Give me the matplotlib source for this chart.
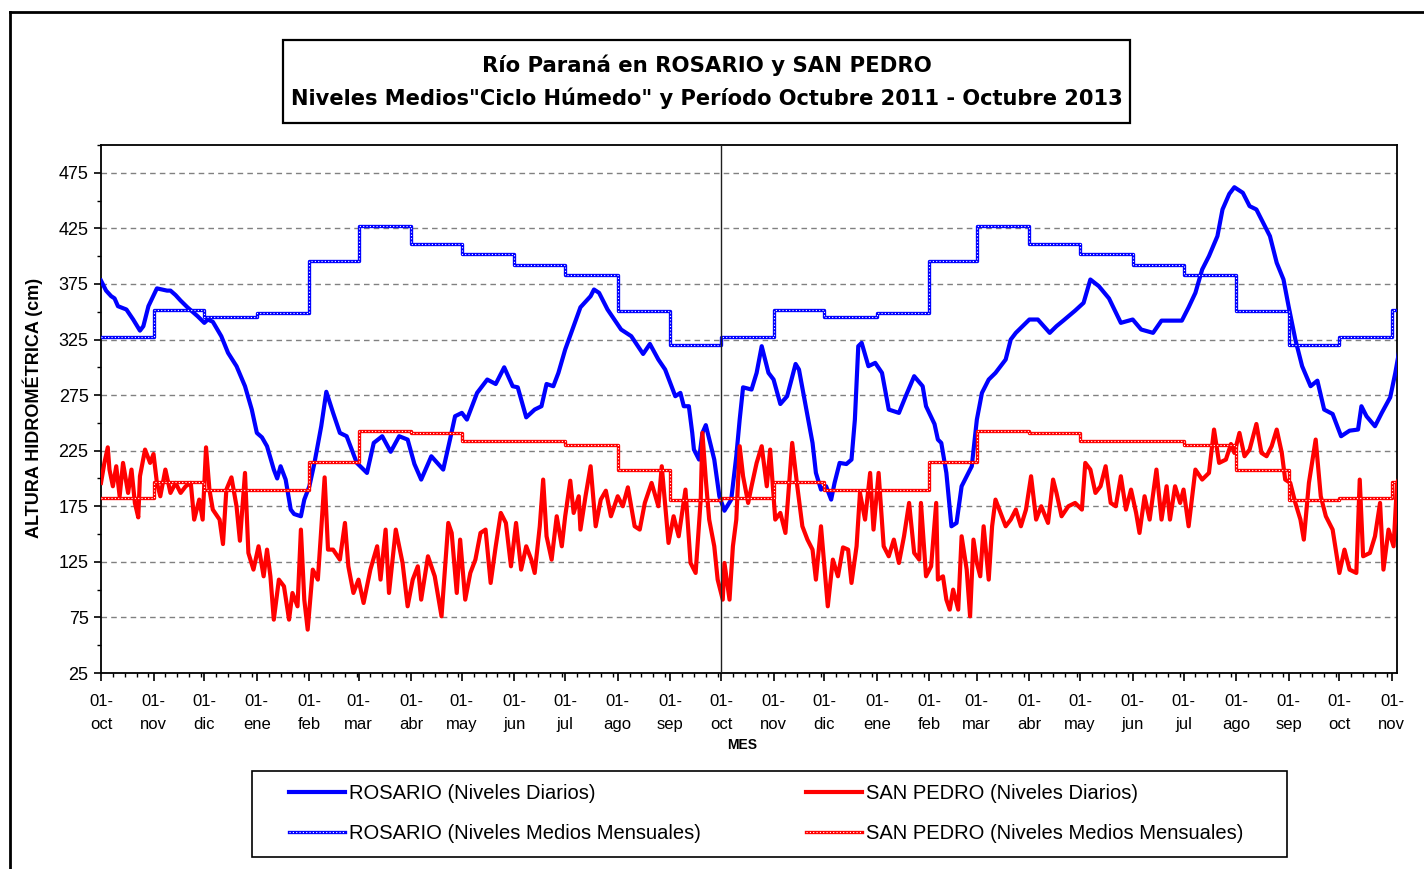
"""Río Paraná en Rosario y San Pedro: niveles diarios y medios mensuales.
Octubre 2011 - Octubre 2013.
"""

import matplotlib
import numpy as np
import pandas as pd

matplotlib.use("Agg")
import matplotlib.pyplot as plt
import matplotlib.dates as mdates
from matplotlib.lines import Line2D
from matplotlib.patches import Rectangle
from matplotlib.ticker import FuncFormatter, MultipleLocator

plt.rcParams["font.family"] = "DejaVu Sans"
plt.rcParams["lines.scale_dashes"] = False

inicio = pd.Timestamp("2011-10-01")
fin = pd.Timestamp("2013-11-04")
corte = pd.Timestamp("2012-10-01")

meses_es = ["ene", "feb", "mar", "abr", "may", "jun",
            "jul", "ago", "sep", "oct", "nov", "dic"]

# niveles medios mensuales "ciclo humedo" (oct .. sep)
rosario_medio = [327, 352, 345, 349, 396, 427, 411, 402, 392, 383, 351, 320]
sanpedro_medio = [182, 197, 190, 190, 215, 243, 241, 234, 234, 230, 208, 181]

# niveles diarios (dias desde 01-oct-2011, cm)
rosario_dia = [
    0, 3, 6, 8, 10, 15, 19, 23, 25, 28, 33, 36, 39, 41, 44, 47, 51, 57, 61, 63,
    66, 71, 75, 80, 85, 89, 92, 95, 98, 102, 104, 106, 109, 112, 114, 118, 120,
    123, 126, 130, 133, 137, 141, 145, 148, 151, 157, 161, 166, 171, 176, 181,
    185, 189, 195, 202, 206, 209, 213, 216, 222, 228, 233, 238, 243, 246, 251,
    256, 260, 263, 267, 270, 274, 279, 283, 289, 291, 294, 299, 307, 313, 320,
    324, 329, 333, 339, 342, 344, 347, 349, 350, 353, 355, 357, 362, 365, 368,
    372, 375, 377, 379, 384, 387, 390, 394, 397, 401, 405, 410, 412, 416, 420,
    422, 425, 428, 431, 433, 436, 440, 443, 445, 447, 449, 453, 457, 461, 465,
    471, 475, 480, 485, 487, 492, 494, 496, 499, 502, 505, 508, 511, 514, 517,
    520, 524, 528, 534, 537, 540, 544, 548, 553, 560, 564, 568, 575, 580, 584,
    589, 595, 602, 609, 614, 621, 626, 631, 638, 642, 646, 650, 654, 659, 662,
    666, 669, 674, 678, 682, 686, 690, 694, 698, 701, 705, 709, 714, 718, 722,
    727, 732, 737, 742, 744, 747, 752, 756, 761, 764, 766,
]
rosario_nivel = [
    378, 369, 364, 362, 355, 352, 343, 333, 337, 355, 371, 370, 369, 369, 365,
    360, 354, 346, 340, 343, 341, 328, 313, 301, 283, 262, 241, 237, 229, 208,
    200, 211, 199, 172, 168, 166, 181, 193, 214, 247, 278, 259, 241, 238, 226,
    214, 205, 232, 238, 224, 238, 235, 213, 199, 220, 208, 235, 256, 259, 253,
    277, 289, 285, 300, 283, 282, 255, 262, 265, 285, 283, 295, 316, 337, 354,
    364, 370, 367, 352, 334, 328, 312, 321, 307, 298, 274, 277, 265, 265, 241,
    226, 217, 241, 248, 217, 184, 171, 181, 220, 253, 282, 280, 295, 319, 295,
    289, 267, 274, 303, 298, 265, 232, 205, 190, 193, 181, 196, 214, 213, 217,
    253, 319, 322, 301, 304, 295, 262, 259, 274, 292, 283, 265, 249, 235, 232,
    205, 157, 160, 193, 202, 211, 253, 277, 289, 295, 307, 325, 331, 337, 343,
    343, 331, 337, 342, 351, 358, 379, 373, 362, 340, 343, 334, 331, 342, 342,
    342, 354, 367, 388, 400, 418, 442, 456, 462, 457, 445, 442, 430, 418, 394,
    379, 355, 325, 301, 283, 288, 262, 258, 238, 243, 244, 265, 256, 247, 259,
    273, 295, 312,
]

sanpedro_dia = [
    0, 2, 4, 5, 7, 9, 11, 13, 16, 18, 20, 22, 23, 26, 29, 31, 33, 35, 38, 41,
    44, 47, 50, 53, 55, 58, 60, 62, 64, 66, 70, 72, 74, 77, 80, 82, 85, 87, 90,
    93, 96, 98, 100, 102, 105, 108, 111, 113, 116, 118, 120, 122, 125, 128, 130,
    132, 134, 137, 141, 144, 146, 149, 152, 155, 159, 163, 165, 168, 170, 174,
    178, 181, 184, 187, 189, 193, 197, 201, 205, 207, 210, 212, 215, 218, 221,
    224, 227, 230, 233, 236, 239, 242, 245, 248, 251, 254, 256, 259, 261, 263,
    266, 269, 272, 274, 277, 279, 282, 283, 286, 289, 292, 295, 298, 301, 305,
    308, 311, 315, 318, 321, 325, 329, 331, 335, 338, 341, 345, 348, 351, 354,
    355, 357, 359, 362, 364, 367, 368, 371, 373, 375, 377, 379, 382, 384, 387,
    390, 393, 395, 398, 401, 404, 408, 411, 414, 417, 420, 422, 425, 427, 429,
    432, 435, 438, 441, 443, 446, 448, 451, 454, 456, 459, 462, 465, 468, 471,
    474, 477, 480, 483, 484, 487, 490, 493, 494, 497, 499, 501, 503, 506, 508,
    511, 513, 515, 517, 519, 521, 524, 526, 528, 531, 534, 537, 540, 543, 546,
    549, 552, 555, 559, 562, 564, 567, 571, 575, 579, 581, 584, 587, 590, 593,
    596, 599, 602, 605, 608, 611, 613, 616, 619, 623, 626, 629, 631, 634, 637,
    639, 642, 646, 650, 654, 657, 660, 664, 667, 669, 672, 675, 678, 682, 685,
    688, 691, 694, 697, 699, 702, 705, 708, 710, 713, 717, 720, 723, 727, 731,
    734, 737, 741, 743, 745, 749, 752, 755, 757, 760, 763, 765, 766,
]
sanpedro_nivel = [
    196, 214, 228, 208, 193, 211, 184, 214, 187, 208, 178, 165, 202, 226, 214,
    222, 196, 184, 208, 187, 196, 187, 193, 196, 163, 181, 163, 228, 190, 172,
    163, 141, 190, 201, 175, 144, 205, 133, 118, 139, 112, 136, 112, 73, 109,
    103, 73, 97, 85, 154, 91, 64, 118, 109, 154, 201, 136, 136, 127, 160, 121,
    97, 109, 88, 118, 139, 109, 154, 97, 154, 124, 85, 109, 121, 91, 130, 112,
    76, 160, 151, 97, 145, 91, 115, 127, 151, 154, 106, 139, 169, 160, 121, 160,
    118, 139, 127, 115, 157, 199, 148, 127, 166, 139, 166, 198, 169, 184, 154,
    184, 211, 157, 181, 189, 166, 184, 175, 192, 157, 154, 178, 196, 175, 211,
    142, 166, 148, 190, 124, 115, 181, 241, 199, 163, 139, 109, 91, 124, 91,
    139, 163, 229, 202, 178, 193, 214, 229, 193, 226, 163, 169, 151, 232, 193,
    157, 145, 136, 109, 157, 121, 85, 127, 112, 138, 136, 106, 139, 187, 163,
    205, 154, 205, 139, 130, 145, 124, 148, 178, 133, 127, 178, 112, 121, 178,
    109, 112, 91, 82, 100, 82, 148, 118, 76, 145, 124, 112, 157, 109, 157, 181,
    169, 157, 163, 172, 157, 172, 202, 163, 175, 160, 199, 187, 166, 175, 178,
    172, 214, 208, 187, 193, 211, 178, 175, 202, 172, 190, 169, 151, 184, 163,
    208, 163, 193, 163, 193, 178, 190, 157, 208, 199, 205, 244, 214, 217, 231,
    223, 241, 220, 226, 249, 223, 220, 229, 244, 223, 199, 196, 178, 163, 145,
    196, 235, 184, 166, 154, 115, 136, 118, 115, 199, 130, 133, 148, 178, 118,
    154, 139, 196, 199,
]

azul = "#0000ff"
rojo = "#ff0000"
W, H = 1424, 869

fig = plt.figure(figsize=(14.24, 8.69), dpi=100)
ax = fig.add_axes([101 / W, 1 - 673 / H, (1397 - 101) / W, (673 - 145) / H])

x_ros = inicio + pd.to_timedelta(rosario_dia, unit="D")
x_sp = inicio + pd.to_timedelta(sanpedro_dia, unit="D")
ax.plot(x_ros, rosario_nivel, color=azul, lw=3.0, zorder=3)
ax.plot(x_sp, sanpedro_nivel, color=rojo, lw=3.0, zorder=4)

# medios mensuales repetidos para cada mes del periodo
mes_x = pd.date_range("2011-10-01", "2013-11-01", freq="MS")
n = len(mes_x)
ros_m = (rosario_medio * 3)[:n]
sp_m = (sanpedro_medio * 3)[:n]
xs = list(mes_x) + [fin]
punteado = dict(color="white", lw=0.8, dashes=(0.8, 1.6))
for vals, col, z in [(ros_m, azul, 5), (sp_m, rojo, 6)]:
    ys = vals + [vals[-1]]
    ax.step(xs, ys, where="post", color=col, lw=2.4, zorder=z)
    ax.step(xs, ys, where="post", zorder=z + 0.5, **punteado)

ax.axvline(corte, color="#202020", lw=1.0, zorder=7)

ax.set_xlim(inicio, fin)
ax.set_ylim(25, 500)
ax.set_yticks([25 + 50 * i for i in range(10)])
ax.yaxis.set_minor_locator(MultipleLocator(25))
ax.yaxis.grid(True, which="major", color="#808080", lw=1.0, dashes=(4, 3))
ax.set_axisbelow(True)

ax.xaxis.set_major_locator(mdates.MonthLocator(bymonthday=1))
ax.xaxis.set_minor_locator(mdates.DayLocator(bymonthday=[8, 15, 22, 29]))
ax.xaxis.set_major_formatter(FuncFormatter(
    lambda v, p: "01-\n" + meses_es[mdates.num2date(v).month - 1]))
ax.tick_params(axis="x", which="major", length=6, width=1.2, pad=9)
ax.tick_params(axis="x", which="minor", length=3, width=1.0)
ax.tick_params(axis="y", which="major", length=5, width=1.2, pad=4)
ax.tick_params(axis="y", which="minor", length=3, width=1.0)
for lab in ax.get_xticklabels():
    lab.set_fontfamily("Liberation Sans")
    lab.set_fontsize(12)
    lab.set_linespacing(1.7)
for lab in ax.get_yticklabels():
    lab.set_fontfamily("Liberation Sans")
    lab.set_fontsize(13)
for s in ax.spines.values():
    s.set_linewidth(1.3)

fig.text(33 / W, 1 - 408 / H, "ALTURA HIDROMÉTRICA (cm)", rotation=90,
         ha="center", va="center", fontsize=13, fontweight="bold",
         family="Liberation Sans")
fig.text(742 / W, 1 - 745 / H, "MES", ha="center", va="center",
         fontsize=10, fontweight="bold", family="Liberation Sans")

# caja del titulo
fig.add_artist(Rectangle((283 / W, 1 - 123 / H), 847 / W, 83 / H,
                         transform=fig.transFigure, fill=False,
                         edgecolor="black", lw=1.6))
fig.text(707 / W, 1 - 65 / H, "Río Paraná en ROSARIO y SAN PEDRO",
         ha="center", va="center", fontsize=15.3, fontweight="bold")
fig.text(707 / W, 1 - 98 / H,
         "Niveles Medios\"Ciclo Húmedo\" y Período Octubre 2011 - Octubre 2013",
         ha="center", va="center", fontsize=15.1, fontweight="bold")

# borde exterior
fig.add_artist(Line2D([10 / W, 1], [1 - 12 / H, 1 - 12 / H],
                      transform=fig.transFigure, color="black", lw=2))
fig.add_artist(Line2D([10 / W, 10 / W], [0, 1 - 12 / H],
                      transform=fig.transFigure, color="black", lw=2))

# leyenda: marco propio y entradas sin marco
fig.add_artist(Rectangle((252 / W, 1 - 857 / H), 1035 / W, 86 / H,
                         transform=fig.transFigure, fill=False,
                         edgecolor="black", lw=1.2))
h_rd = Line2D([], [], color=azul, lw=3.0)
h_sd = Line2D([], [], color=rojo, lw=3.0)
h_rm = (Line2D([], [], color=azul, lw=2.4), Line2D([], [], **punteado))
h_sm = (Line2D([], [], color=rojo, lw=2.4), Line2D([], [], **punteado))
fig.legend(
    [h_rd, h_rm, h_sd, h_sm],
    ["ROSARIO (Niveles Diarios)", "ROSARIO (Niveles Medios Mensuales)",
     "SAN PEDRO (Niveles Diarios)", "SAN PEDRO (Niveles Medios Mensuales)"],
    loc="upper left", bbox_to_anchor=(289 / W, 1 - 784 / H),
    ncol=2, frameon=False,
    prop={"family": "Liberation Sans", "size": 14.5},
    handlelength=2.8, handletextpad=0.2, labelspacing=1.05,
    columnspacing=5.2, borderpad=0.0, borderaxespad=0.0,
)

fig.savefig("out.png", dpi=100)
